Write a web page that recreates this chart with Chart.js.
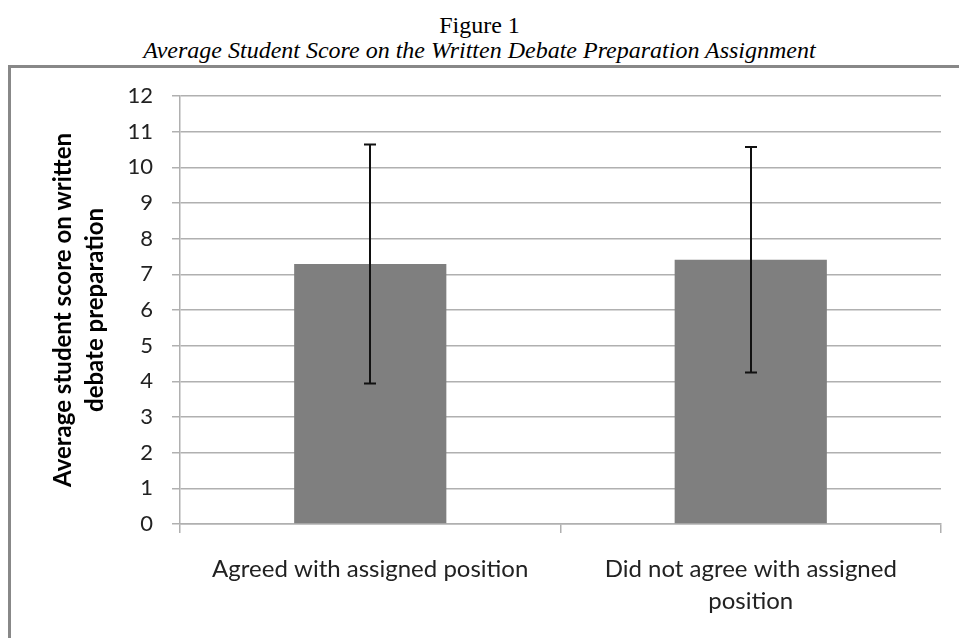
<!DOCTYPE html>
<html>
<head>
<meta charset="utf-8">
<script src="https://cdn.jsdelivr.net/npm/chart.js@4.4.1/dist/chart.umd.min.js"></script>
<style>
  body { margin: 0; background: #fff; overflow: hidden; }
  #page { position: relative; width: 959px; height: 638px; }
  .fig { position: absolute; left: 0; width: 959px; text-align: center;
         font-family: "Liberation Serif", "Times New Roman", serif; font-size: 24px;
         line-height: 24px; color: #000; }
  #fig1 { top: 13px; }
  #fig2 { top: 38px; font-style: italic; }
  #frame { position: absolute; left: 8px; top: 65px; width: 1000px; height: 700px;
           border: 3px solid #888; }
  #c { position: absolute; left: 0; top: 0; }
</style>
</head>
<body>
<div id="page">
  <div class="fig" id="fig1">Figure 1</div>
  <div class="fig" id="fig2">Average Student Score on the Written Debate Preparation Assignment</div>
  <div id="frame"></div>
  <canvas id="c" width="959" height="638"></canvas>
</div>
<script>
// Data
var categories = [
  ["Agreed with assigned position"],
  ["Did not agree with assigned", "position"]
];
var meanScores = [7.29, 7.41];
var errorSizes = [3.35, 3.16];   // +/- around the mean
var yTicks = [0, 1, 2, 3, 4, 5, 6, 7, 8, 9, 10, 11, 12];

var gridColor = "#b0b0b0";

// draw the error bars from the bar elements and the y scale
var errorBarPlugin = {
  id: "errorBars",
  afterDatasetsDraw: function(chart) {
    var ctx = chart.ctx;
    var yScale = chart.scales.y;
    var meta = chart.getDatasetMeta(0);
    ctx.save();
    ctx.strokeStyle = "#111";
    ctx.lineWidth = 2;
    meta.data.forEach(function(bar, i) {
      var top = yScale.getPixelForValue(meanScores[i] + errorSizes[i]);
      var bottom = yScale.getPixelForValue(meanScores[i] - errorSizes[i]);
      var x = Math.round(bar.x);
      ctx.beginPath();
      ctx.moveTo(x, top);
      ctx.lineTo(x, bottom);
      ctx.moveTo(x - 6, top);
      ctx.lineTo(x + 6, top);
      ctx.moveTo(x - 6, bottom);
      ctx.lineTo(x + 6, bottom);
      ctx.stroke();
    });
    ctx.restore();
  }
};

var chart = new Chart(document.getElementById("c"), {
  type: "bar",
  data: {
    labels: categories,
    datasets: [
      {
        label: "Average score",
        backgroundColor: "#7f7f7f",
        borderWidth: 0,
        data: meanScores,
        categoryPercentage: 1.0,
        barPercentage: 0.4
      }
    ]
  },
  options: {
    responsive: false,
    devicePixelRatio: 1,
    animation: false,
    layout: { padding: { left: 20, top: 96, right: 18, bottom: 0 } },
    plugins: {
      legend: { display: false },
      tooltip: { enabled: false }
    },
    scales: {
      x: {
        offset: true,
        afterFit: function(scale) { scale.height = 114; },
        grid: {
          display: true,
          offset: true,
          drawOnChartArea: false,
          drawTicks: true,
          tickLength: 9,
          color: gridColor,
          lineWidth: 1.5
        },
        border: { display: true, color: gridColor, width: 1.5 },
        ticks: {
          color: "#222",
          padding: 21,
          maxRotation: 0,
          autoSkip: false,
          font: { family: "Lato", size: 24, lineHeight: 1.3 }
        }
      },
      y: {
        min: 0,
        max: 12,
        afterFit: function(scale) { scale.width = 160; },
        afterBuildTicks: function(scale) {
          scale.ticks = yTicks.map(function(v) { return { value: v }; });
        },
        grid: {
          color: gridColor,
          lineWidth: 1.5,
          tickLength: 8
        },
        border: { display: true, color: gridColor, width: 1.5 },
        ticks: {
          color: "#222",
          padding: 19,
          font: { family: "Lato", size: 22 }
        },
        title: {
          display: true,
          text: ["Average student score on written", "debate preparation"],
          color: "#000",
          padding: { top: 27, bottom: 0 },
          font: { family: "Lato", size: 24, weight: "bold", lineHeight: 1.33 }
        }
      }
    }
  },
  plugins: [errorBarPlugin]
});
</script>
</body>
</html>
